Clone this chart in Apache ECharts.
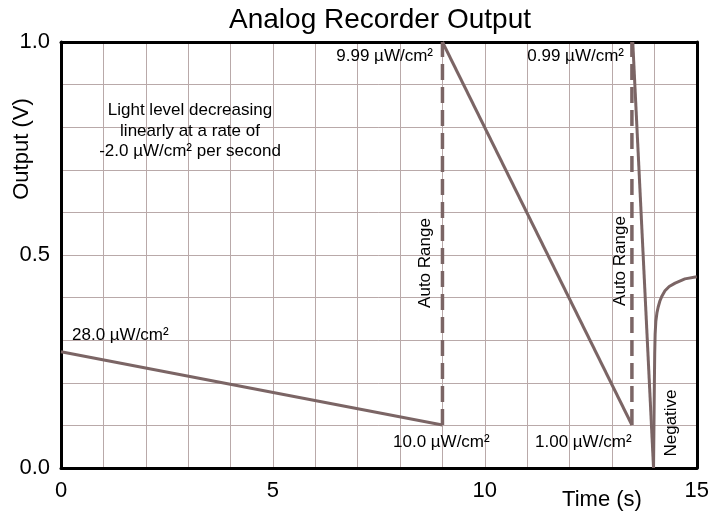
<!DOCTYPE html>
<html>
<head>
<meta charset="utf-8">
<script src="https://cdn.jsdelivr.net/npm/echarts@6/dist/echarts.min.js"></script>
<style>
html,body{margin:0;padding:0;background:#fff;}
#chart{width:712px;height:514px;}
</style>
</head>
<body>
<div id="chart"></div>
<script>
// Data (time in s, output in V)
const ramp1 = [[0, 0.273], [9, 0.101]];
const ramp2 = [[9.0, 1.0], [13.47, 0.101]];
const ramp3 = [[13.49, 1.0], [13.98, 0.0]];
const negative = [[13.98, 0.0], [13.99, 0.1], [14.0, 0.2], [14.008, 0.27], [14.018, 0.315], [14.035, 0.345], [14.06, 0.364], [14.09, 0.378], [14.13, 0.392], [14.18, 0.404], [14.25, 0.416], [14.35, 0.426], [14.49, 0.434], [14.72, 0.444], [15.0, 0.449]];
const autoRange1 = [[9, 0.101], [9, 1.0]];
const autoRange2 = [[13.47, 0.101], [13.47, 1.0]];
const xTickLabels = [0, 5, 10, 15];
const yTickLabels = ['0.0', '0.5', '1.0'];

const FONT = "'Liberation Sans', Arial, Helvetica, sans-serif";
const LINE = '#7b6565';
const GRID = '#b9a9a9';

const chart = echarts.init(document.getElementById('chart'), null, {renderer: 'canvas'});

function lineSeries(data, dashed) {
  return {
    type: 'line', data: data, showSymbol: false, symbol: 'none', silent: true,
    xAxisIndex: 0, yAxisIndex: 0, z: dashed ? 3 : 4,
    lineStyle: dashed ? {color: LINE, width: 3.5, type: [16, 7]} : {color: LINE, width: 3, join: 'round'},
    animation: false
  };
}

function txt(text, x, y, opts) {
  opts = opts || {};
  return {
    type: 'text', x: x, y: y, rotation: opts.rot || 0, z: 10,
    style: {
      text: text, x: 0, y: 0, fill: '#000',
      font: (opts.size || 17) + 'px ' + FONT,
      align: opts.align || 'center', verticalAlign: 'middle'
    }
  };
}

const option = {
  backgroundColor: '#fff',
  animation: false,
  grid: {left: 61, right: 13, top: 42, bottom: 46, containLabel: false},
  xAxis: [{
    type: 'value', min: 0, max: 15, interval: 1,
    axisLine: {show: true, lineStyle: {color: '#000', width: 3}},
    axisTick: {show: false},
    splitLine: {show: true, lineStyle: {color: GRID, width: 1}},
    axisLabel: {
      margin: 12, color: '#000', fontSize: 22, fontFamily: FONT,
      formatter: function (v) { return xTickLabels.indexOf(v) >= 0 ? String(v) : ''; }
    }
  }, {
    type: 'value', min: 0, max: 15, position: 'top',
    axisLine: {show: true, onZero: false, lineStyle: {color: '#000', width: 3}},
    axisTick: {show: false}, axisLabel: {show: false}, splitLine: {show: false}
  }],
  yAxis: [{
    type: 'value', min: 0, max: 1, interval: 0.1,
    axisLine: {show: true, lineStyle: {color: '#000', width: 3}},
    axisTick: {show: false},
    splitLine: {show: true, lineStyle: {color: GRID, width: 1}},
    axisLabel: {
      margin: 11, color: '#000', fontSize: 22, fontFamily: FONT, padding: [6, 0, 0, 0],
      formatter: function (v) {
        const s = v.toFixed(1);
        return yTickLabels.indexOf(s) >= 0 && Math.abs(v * 2 - Math.round(v * 2)) < 1e-6 ? s : '';
      }
    }
  }, {
    type: 'value', min: 0, max: 1, position: 'right',
    axisLine: {show: true, onZero: false, lineStyle: {color: '#000', width: 3}},
    axisTick: {show: false}, axisLabel: {show: false}, splitLine: {show: false}
  }],
  series: [
    lineSeries(autoRange1, true),
    lineSeries(autoRange2, true),
    lineSeries(ramp1, false),
    lineSeries(ramp2, false),
    lineSeries(ramp3, false),
    lineSeries(negative, false)
  ],
  graphic: [
    txt('Analog Recorder Output', 380, 20, {size: 28}),
    txt('Output (V)', 22, 149, {size: 22, rot: Math.PI / 2}),
    txt('Time (s)', 602, 500, {size: 22}),
    txt('Light level decreasing', 190, 110.5),
    txt('linearly at a rate of', 190, 131),
    txt('-2.0 \u00b5W/cm\u00b2 per second', 190, 151.5),
    txt('9.99 \u00b5W/cm\u00b2', 433, 56.5, {align: 'right'}),
    txt('0.99 \u00b5W/cm\u00b2', 624, 56.5, {align: 'right'}),
    txt('28.0 \u00b5W/cm\u00b2', 72, 335, {align: 'left'}),
    txt('10.0 \u00b5W/cm\u00b2', 393, 442, {align: 'left'}),
    txt('1.00 \u00b5W/cm\u00b2', 535, 442, {align: 'left'}),
    txt('Auto Range', 425, 263, {rot: Math.PI / 2}),
    txt('Auto Range', 620, 261, {rot: Math.PI / 2}),
    txt('Negative', 671, 423, {rot: Math.PI / 2})
  ]
};

chart.setOption(option);
</script>
</body>
</html>
